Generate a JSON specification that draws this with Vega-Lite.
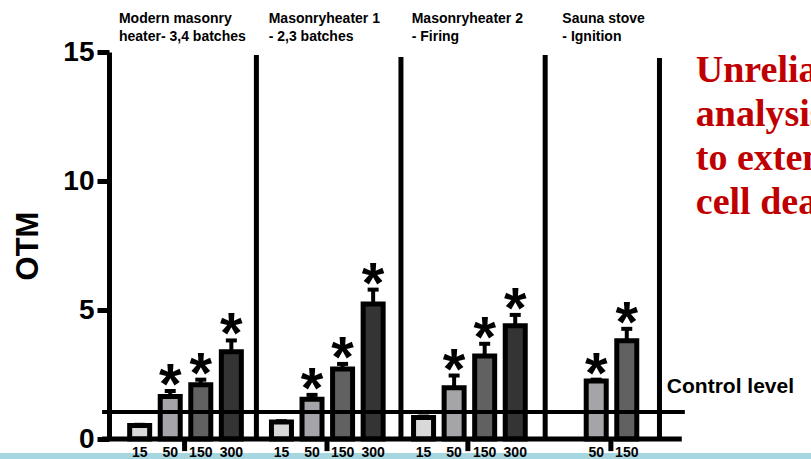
{
  "$schema": "https://vega.github.io/schema/vega-lite/v6.json",
  "width": 702,
  "height": 387,
  "autosize": {"type": "none"},
  "padding": {"left": 109, "top": 52, "right": 0, "bottom": 20},
  "background": "white",
  "config": {"view": {"stroke": null}, "font": "Liberation Sans"},
  "datasets": {
    "bars": [
      {"group": "G1", "dose": "15", "x": 0.84, "otm": 0.52, "err": 0.55, "sig": ""},
      {"group": "G1", "dose": "50", "x": 1.84, "otm": 1.65, "err": 1.86, "sig": "*"},
      {"group": "G1", "dose": "150", "x": 2.84, "otm": 2.10, "err": 2.30, "sig": "*"},
      {"group": "G1", "dose": "300", "x": 3.84, "otm": 3.38, "err": 3.82, "sig": "*"},
      {"group": "G2", "dose": "15", "x": 5.48, "otm": 0.66, "err": 0.69, "sig": ""},
      {"group": "G2", "dose": "50", "x": 6.48, "otm": 1.54, "err": 1.71, "sig": "*"},
      {"group": "G2", "dose": "150", "x": 7.48, "otm": 2.71, "err": 2.91, "sig": "*"},
      {"group": "G2", "dose": "300", "x": 8.48, "otm": 5.23, "err": 5.79, "sig": "*"},
      {"group": "G3", "dose": "15", "x": 10.13, "otm": 0.83, "err": 0.87, "sig": ""},
      {"group": "G3", "dose": "50", "x": 11.13, "otm": 1.99, "err": 2.46, "sig": "*"},
      {"group": "G3", "dose": "150", "x": 12.13, "otm": 3.22, "err": 3.69, "sig": "*"},
      {"group": "G3", "dose": "300", "x": 13.13, "otm": 4.39, "err": 4.81, "sig": "*"},
      {"group": "G4", "dose": "50", "x": 15.78, "otm": 2.25, "err": 2.30, "sig": "*"},
      {"group": "G4", "dose": "150", "x": 16.78, "otm": 3.81, "err": 4.27, "sig": "*"}
    ],
    "groups": [
      {"group": "G1", "title": "Modern masonry\nheater- 3,4 batches", "tx": 0.26, "mid": 2.31, "sep": 4.66, "septop": 14.88, "base": 0, "tickend": -0.47},
      {"group": "G2", "title": "Masonryheater 1\n- 2,3 batches", "tx": 5.16, "mid": 6.97, "sep": 9.39, "septop": 14.81, "base": 0, "tickend": -0.47},
      {"group": "G3", "title": "Masonryheater 2\n- Firing", "tx": 9.84, "mid": 11.58, "sep": 14.11, "septop": 14.88, "base": 0, "tickend": -0.47},
      {"group": "G4", "title": "Sauna stove\n- Ignition", "tx": 14.77, "mid": 16.26, "sep": 17.85, "septop": 14.77, "base": 0, "tickend": -0.47}
    ],
    "refs": [
      {"line": "control", "y": 1.05, "from": -0.39, "to": 18.68},
      {"line": "zero", "y": 0, "from": -0.39, "to": 18.58}
    ],
    "band": [{"x1": -4, "x2": 24, "y1": -0.54, "y2": -1.2}]
  },
  "layer": [
    {
      "data": {"name": "band"},
      "mark": {"type": "rect", "color": "#a6d6e0"},
      "encoding": {
        "x": {"field": "x1", "type": "quantitative", "scale": {"domain": [0, 22.645], "nice": false, "zero": false}, "axis": null},
        "x2": {"field": "x2"},
        "y": {"field": "y1", "type": "quantitative", "scale": {"domain": [0, 15], "nice": false}},
        "y2": {"field": "y2"}
      }
    },
    {
      "data": {"name": "groups"},
      "mark": {"type": "rule", "strokeWidth": 5, "color": "black"},
      "encoding": {
        "x": {"field": "sep", "type": "quantitative"},
        "y": {"field": "base", "type": "quantitative"},
        "y2": {"field": "septop"}
      }
    },
    {
      "data": {"name": "groups"},
      "mark": {"type": "rule", "strokeWidth": 5, "color": "black"},
      "encoding": {
        "x": {"field": "mid", "type": "quantitative"},
        "y": {"field": "base", "type": "quantitative"},
        "y2": {"field": "tickend"}
      }
    },
    {
      "data": {"name": "groups"},
      "mark": {"type": "text", "align": "left", "baseline": "alphabetic", "dx": -3, "dy": -29, "fontSize": 14, "fontWeight": "bold", "lineBreak": "\n", "lineHeight": 18, "color": "black"},
      "encoding": {
        "x": {"field": "tx", "type": "quantitative"},
        "y": {"datum": 15, "type": "quantitative"},
        "text": {"field": "title"}
      }
    },
    {
      "data": {"name": "bars"},
      "mark": {"type": "bar", "size": 20, "stroke": "black", "strokeWidth": 5},
      "encoding": {
        "x": {"field": "x", "type": "quantitative"},
        "y": {"field": "otm", "type": "quantitative", "axis": {"title": "OTM", "values": [0, 5, 10, 15], "grid": false, "domainWidth": 5, "domainColor": "black", "tickColor": "black", "tickWidth": 5, "tickSize": 12, "labelFontSize": 28, "labelFontWeight": "bold", "labelColor": "black", "labelPadding": 3, "labelFont": "Liberation Sans", "titleFont": "Liberation Sans", "titleFontSize": 31, "titleFontWeight": "bold", "titleColor": "black", "titlePadding": 18}},
        "color": {"field": "dose", "type": "nominal", "scale": {"domain": ["15", "50", "150", "300"], "range": ["#d9d9d9", "#a4a4a9", "#616161", "#343434"]}, "legend": null}
      }
    },
    {
      "data": {"name": "bars"},
      "mark": {"type": "rule", "strokeWidth": 4, "color": "black"},
      "encoding": {
        "x": {"field": "x", "type": "quantitative"},
        "y": {"field": "otm", "type": "quantitative"},
        "y2": {"field": "err"}
      }
    },
    {
      "data": {"name": "bars"},
      "mark": {"type": "tick", "orient": "horizontal", "size": 11, "thickness": 4, "color": "black", "opacity": 1},
      "encoding": {
        "x": {"field": "x", "type": "quantitative"},
        "y": {"field": "err", "type": "quantitative"}
      }
    },
    {
      "data": {"name": "bars"},
      "mark": {"type": "text", "align": "center", "baseline": "alphabetic", "dy": 13, "fontSize": 58, "fontWeight": "bold", "color": "black"},
      "encoding": {
        "x": {"field": "x", "type": "quantitative"},
        "y": {"field": "err", "type": "quantitative"},
        "text": {"field": "sig"}
      }
    },
    {
      "data": {"name": "bars"},
      "mark": {"type": "text", "align": "center", "baseline": "alphabetic", "dy": 18, "fontSize": 14, "fontWeight": "bold", "color": "black"},
      "encoding": {
        "x": {"field": "x", "type": "quantitative"},
        "y": {"datum": 0, "type": "quantitative"},
        "text": {"field": "dose"}
      }
    },
    {
      "data": {"name": "refs"},
      "transform": [{"filter": "datum.line === 'control'"}],
      "mark": {"type": "rule", "strokeWidth": 4, "color": "black"},
      "encoding": {
        "x": {"field": "from", "type": "quantitative"},
        "x2": {"field": "to"},
        "y": {"field": "y", "type": "quantitative"}
      }
    },
    {
      "data": {"name": "refs"},
      "transform": [{"filter": "datum.line === 'zero'"}],
      "mark": {"type": "rule", "strokeWidth": 5, "color": "black"},
      "encoding": {
        "x": {"field": "from", "type": "quantitative"},
        "x2": {"field": "to"},
        "y": {"field": "y", "type": "quantitative"}
      }
    },
    {
      "data": {"name": "refs"},
      "transform": [{"filter": "datum.line === 'control'"}],
      "mark": {"type": "text", "align": "left", "baseline": "alphabetic", "dx": -18, "dy": -19, "fontSize": 21, "fontWeight": "bold", "color": "black", "text": "Control level"},
      "encoding": {
        "x": {"field": "to", "type": "quantitative"},
        "y": {"field": "y", "type": "quantitative"}
      }
    },
    {
      "data": {"name": "band"},
      "mark": {"type": "text", "align": "left", "baseline": "alphabetic", "dx": 3, "dy": 30, "fontSize": 38, "fontWeight": "bold", "font": "Liberation Serif", "color": "#c00000", "lineHeight": 44, "lineBreak": "\n", "text": "Unreliable\nanalysis due\nto extensive\ncell death"},
      "encoding": {
        "x": {"datum": 18.94, "type": "quantitative"},
        "y": {"datum": 15, "type": "quantitative"}
      }
    }
  ]
}
